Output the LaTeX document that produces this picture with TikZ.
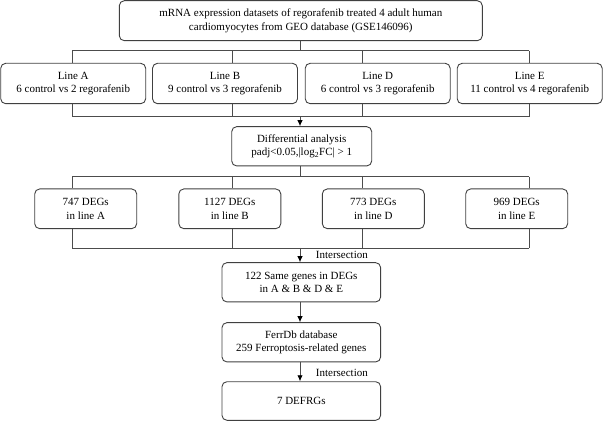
\documentclass[tikz,border=0pt]{standalone}
\usepackage{fontspec}
\setmainfont{Liberation Serif}
\usetikzlibrary{positioning, calc, arrows.meta}

\tikzset{
  stage/.style={draw=black!75, line width=0.9pt, rounded corners=5pt, align=center,
    inner sep=0pt, font=\fontsize{11}{13.3}\selectfont},
  linebox/.style={stage, minimum width=145pt, minimum height=40.4pt},
  degbox/.style={stage, minimum width=102pt, minimum height=39.7pt},
  midbox/.style={stage, minimum width=158.7pt, minimum height=39.3pt},
  link/.style={draw=black!70, line width=0.9pt},
  flow/.style={link, -{Latex[length=6pt,width=5.5pt,black]}},
  note/.style={font=\fontsize{11}{13.3}\selectfont, inner sep=0pt, anchor=west}
}

\begin{document}
\begin{tikzpicture}[x=1pt,y=-1pt]
\useasboundingbox (0,0) rectangle (603,422);

% columns and bus lines
\foreach \c/\x in {colA/72.3,colB/232.3,colD/362.7,colE/529.3} {\coordinate (\c) at (\x,0);}
\coordinate (busA) at (300,50.7);
\coordinate (busB) at (300,116.7);
\coordinate (busC) at (300,176.7);
\coordinate (busD) at (300,248);

% boxes
\node[stage, minimum width=363pt, minimum height=40pt] (top) at (300.8,20.7)
  {mRNA expression datasets of regorafenib treated 4 adult human\\cardiomyocytes from GEO database (GSE146096)};
\foreach \n/\x/\a/\b in {lineA/73.2/A/6 control vs 2 regorafenib,
                         lineB/225/B/9 control vs 3 regorafenib,
                         lineD/377.7/D/6 control vs 3 regorafenib,
                         lineE/529.7/E/11 control vs 4 regorafenib}
  {\node[linebox] (\n) at (\x,83.5) {Line \a\\\b};}
\node[stage, minimum width=140pt, minimum height=39.3pt] (diff) at (301.7,146.3)
  {Differential analysis\\padj<0.05,|log\textsubscript{2}FC| > 1};
\foreach \n/\x/\a/\b in {degA/85.7/747/A, degB/229.8/1127/B, degD/373.3/773/D, degE/516.7/969/E}
  {\node[degbox] (\n) at (\x,208.8) {\a{} DEGs\\in line \b};}
\node[midbox] (same) at (301.3,282.3) {122 Same genes in DEGs\\in A \& B \& D \& E};
\node[midbox] (ferr) at (301.3,342.3) {FerrDb database\\259 Ferroptosis-related genes};
\node[midbox, minimum height=38.6pt] (defrg) at (301.3,401) {7 DEFRGs};

% connectors
\draw[link] (top.south -| busA) -- (busA);
\draw[link] (colA |- busA) -- (colE |- busA);
\foreach \n/\c in {lineA/colA,lineB/colB,lineD/colD,lineE/colE}
  {\draw[link] (\c |- busA) -- (\c |- \n.north);
   \draw[link] (\c |- \n.south) -- (\c |- busB);}
\draw[link] (colA |- busB) -- (colE |- busB);
\draw[flow] (busB) -- (busB |- diff.north);

\draw[link] (busC |- diff.south) -- (busC);
\draw[link] (colA |- busC) -- (colE |- busC);
\foreach \n/\c in {degA/colA,degB/colB,degD/colD,degE/colE}
  {\draw[link] (\c |- busC) -- (\c |- \n.north);
   \draw[link] (\c |- \n.south) -- (\c |- busD);}
\draw[link] (colA |- busD) -- (colE |- busD);
\draw[flow] (busD) -- (busD |- same.north);
\node[note] (isect1) at (315.7,255.3) {Intersection};

\draw[flow] (busD |- same.south) -- (busD |- ferr.north);
\draw[flow] (busD |- ferr.south) -- (busD |- defrg.north);
\node[note] (isect2) at (315.7,372.7) {Intersection};
\end{tikzpicture}
\end{document}
